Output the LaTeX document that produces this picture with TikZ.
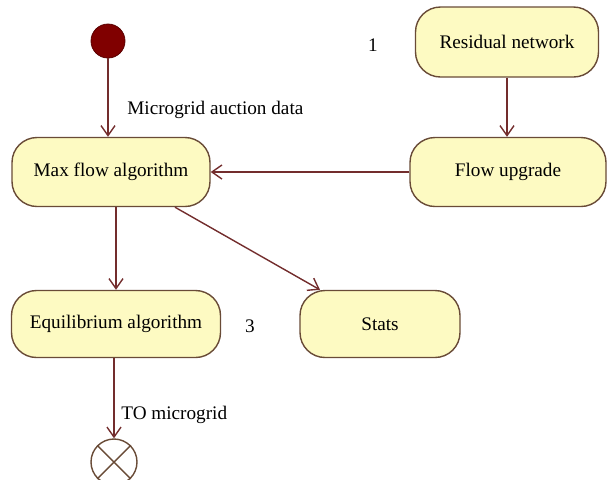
\documentclass[tikz,border=0pt]{standalone}
\usepackage{fontspec}
\setmainfont{Liberation Serif}
\usetikzlibrary{arrows.meta}
\definecolor{boxfill}{RGB}{253,250,194}
\definecolor{boxline}{RGB}{105,75,55}
\definecolor{flowline}{RGB}{115,45,45}
\definecolor{startred}{RGB}{128,0,0}
\tikzset{
  state/.style={rectangle, rounded corners=12.5pt, draw=boxline, fill=boxfill, line width=0.7pt, minimum height=34.5pt, inner sep=0pt},
  flow/.style={draw=flowline, line width=0.7pt, -{Straight Barb[length=5pt,width=7pt]}},
  tag/.style={inner sep=0pt, anchor=west}
}
\begin{document}
\begin{tikzpicture}[x=0.5pt,y=-0.5pt,font=\fontsize{9.6}{11}\selectfont]
\useasboundingbox (0,0) rectangle (610,479);
\node[circle, draw=startred!70!black, fill=startred, minimum size=17pt, inner sep=0pt] (start) at (108,41) {};
\node[state, minimum width=99pt] (max) at (111,172) {Max flow algorithm};
\node[state, minimum width=91.5pt, minimum height=35pt] (res) at (507,42) {Residual network};
\node[state, minimum width=98pt] (upg) at (508,172) {Flow upgrade};
\node[state, minimum width=104.5pt, minimum height=33.5pt] (eq) at (116,324) {Equilibrium algorithm};
\node[state, minimum width=80pt, minimum height=33.5pt] (stats) at (380,324) {Stats};
\node[circle, draw=boxline, fill=white, line width=0.7pt, minimum size=23pt, inner sep=0pt] (end) at (114,462) {};
\draw[boxline, line width=0.7pt] (end.north west) -- (end.south east) (end.north east) -- (end.south west);
% labels
\node[tag] (auction) at (127,110) {Microgrid auction data};
\node[tag] (tomg) at (121,415) {TO microgrid};
\node (one) at (373,45) {1}; \node (three) at (250,326) {3};
% flows
\draw[flow] (start) -- (start |- max.north);
\draw[flow] (res) -- (res |- upg.north);
\draw[flow] (upg.west) -- (max.east);
\draw[flow] (eq.north |- max.south) -- (eq.north);
\draw[flow] ([xshift=32pt]max.south) -- ([xshift=-30pt]stats.north);
\draw[flow] (eq.south -| end) -- (end.north);
\end{tikzpicture}
\end{document}
